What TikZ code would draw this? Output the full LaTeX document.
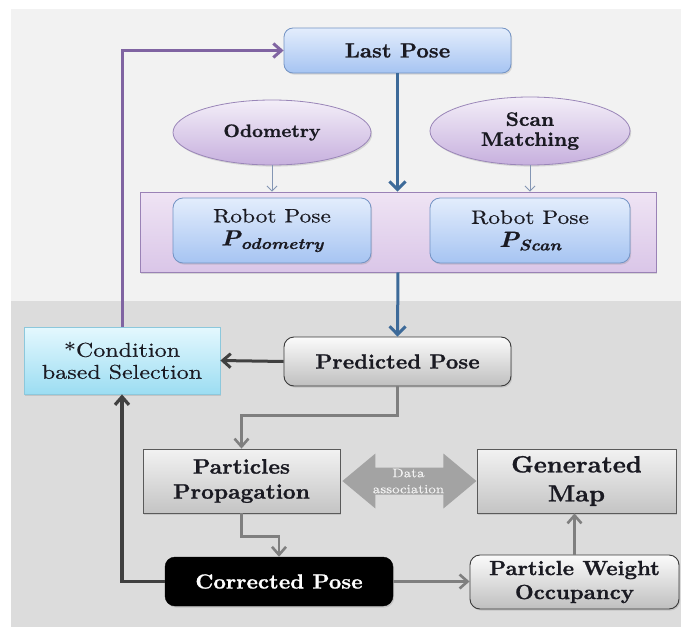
\documentclass[tikz,border=0pt]{standalone}
\usepackage{fontspec}
\usetikzlibrary{arrows.meta,shapes.geometric,shadows,calc}
\newfontfamily\fwreg{lmroman10-regular}[Extension=.otf, FakeStretch=1.2, FakeBold=0.4]
\newfontfamily\fwbold{lmroman10-bold}[Extension=.otf, FakeStretch=1.06, FakeBold=1]
\newfontfamily\fwbi{lmroman10-bolditalic}[Extension=.otf, FakeStretch=1.15, FakeBold=0.8]
\definecolor{panelA}{HTML}{F2F2F2}
\definecolor{panelB}{HTML}{DCDCDC}
\definecolor{bluetop}{HTML}{E3EDFC}
\definecolor{bluebot}{HTML}{A6C4F2}
\definecolor{blueedge}{HTML}{7393C4}
\definecolor{purptop}{HTML}{F3EEF8}
\definecolor{purpbot}{HTML}{C7B0DE}
\definecolor{purpedge}{HTML}{9A86B8}
\definecolor{bandtop}{HTML}{EFE4F4}
\definecolor{bandbot}{HTML}{DAC6E8}
\definecolor{bandedge}{HTML}{9A82B6}
\definecolor{graytop}{HTML}{FBFBFB}
\definecolor{graybot}{HTML}{BFBFBF}
\definecolor{grayedge}{HTML}{3A3A3A}
\definecolor{sqtop}{HTML}{F2F2F2}
\definecolor{sqbot}{HTML}{C4C4C4}
\definecolor{sqedge}{HTML}{5A5A5A}
\definecolor{cyantop}{HTML}{E4F8FE}
\definecolor{cyanbot}{HTML}{9CDDF2}
\definecolor{cyanedge}{HTML}{8CC8DC}
\definecolor{bluearr}{HTML}{3D6A99}
\definecolor{purparr}{HTML}{8064A2}
\definecolor{darkarr}{HTML}{404040}
\definecolor{grayarr}{HTML}{7F7F7F}
\definecolor{thinarr}{HTML}{8496B4}
\definecolor{dagray}{HTML}{A3A3A3}
\definecolor{textc}{HTML}{1A1A22}
\tikzset{
  boxshadow/.style={drop shadow={shadow xshift=1.2pt, shadow yshift=-1.6pt, opacity=0.25}},
  basebox/.style={draw, inner sep=2pt, align=center, text=textc, boxshadow},
  bluebox/.style={basebox, rectangle, rounded corners=9pt, draw=blueedge, line width=0.8pt, top color=bluetop, bottom color=bluebot},
  ellbox/.style={basebox, ellipse, draw=purpedge, line width=0.8pt, top color=purptop, bottom color=purpbot},
  bandbox/.style={rectangle, draw=bandedge, line width=0.9pt, top color=bandtop, bottom color=bandbot, boxshadow},
  graybox/.style={basebox, rectangle, rounded corners=10pt, draw=grayedge, line width=0.9pt, top color=graytop, bottom color=graybot},
  sqbox/.style={basebox, rectangle, draw=sqedge, line width=0.8pt, top color=sqtop, bottom color=sqbot},
  cyanbox/.style={basebox, rectangle, draw=cyanedge, line width=0.8pt, top color=cyantop, bottom color=cyanbot},
  blackbox/.style={basebox, rectangle, rounded corners=10pt, draw=black, fill=black, text=white},
  bluearrow/.style={draw=bluearr, line width=3pt, -{Straight Barb[length=8pt,width=16pt]}},
  thinarrow/.style={draw=thinarr, line width=0.9pt, -{Straight Barb[length=5pt,width=10pt]}},
  purplearrow/.style={draw=purparr, line width=3pt, -{Straight Barb[length=8pt,width=14pt]}},
  darkarrow/.style={draw=darkarr, line width=3pt, -{Straight Barb[length=8pt,width=14pt]}},
  grayarrow/.style={draw=grayarr, line width=2.6pt, -{Straight Barb[length=8pt,width=14pt]}},
  datext/.style={align=center, text=white!95!black, inner sep=0pt},
}
\begin{document}
\begin{tikzpicture}[x=1pt,y=-1pt]
\useasboundingbox (0,0) rectangle (681,629);
\fill[white] (0,0) rectangle (681,629);
\fill[panelA] (11,9) rectangle (681,301);
\fill[panelB] (11,301) rectangle (681,627);

% purple band
\node[bandbox, minimum width=516pt, minimum height=80pt] (band) at (398,232) {};

% nodes
\node[bluebox, minimum width=227pt, minimum height=45pt,
  font={\fwbold\fontsize{20.5}{24}\selectfont}] (last) at (397.5,50.5) {Last Pose};
\node[ellbox, minimum width=198pt, minimum height=65pt,
  font={\fwbold\fontsize{18}{20}\selectfont}] (odo) at (272,132.5) {Odometry};
\node[ellbox, minimum width=200pt, minimum height=68pt,
  font={\fwbold\fontsize{19.5}{20}\selectfont}] (scan) at (530,131) {Scan\\Matching};
\node[bluebox, rounded corners=10pt, minimum width=198pt, minimum height=65pt,
  font={\fwreg\fontsize{19.5}{23}\selectfont}] (rpo) at (272,230.5)
  {Robot Pose\\{\fwbi\fontsize{22}{22}\selectfont P\raisebox{-3.5pt}{\fontsize{15.5}{15}\selectfont odometry}}};
\node[bluebox, rounded corners=10pt, minimum width=200pt, minimum height=65pt,
  font={\fwreg\fontsize{19.5}{23}\selectfont}] (rps) at (530,230.5)
  {Robot Pose\\{\fwbi\fontsize{22}{22}\selectfont P\raisebox{-3.5pt}{\fontsize{15.5}{15}\selectfont Scan}}};
\node[graybox, minimum width=227pt, minimum height=49pt,
  font={\fwbold\fontsize{20.5}{24}\selectfont}] (pred) at (397.5,361.5) {Predicted Pose};
\node[cyanbox, minimum width=196pt, minimum height=67pt,
  font={\fwreg\fontsize{20}{22}\selectfont}] (cond) at (122,360.5) {*Condition\\based Selection};
\node[sqbox, minimum width=197pt, minimum height=64pt,
  font={\fwbold\fontsize{21}{25}\selectfont}] (part) at (241.5,481) {Particles\\Propagation};
\node[sqbox, minimum width=199pt, minimum height=64pt,
  font={\fwbold\fontsize{23.5}{29}\selectfont}] (gmap) at (576.5,481) {Generated\\Map};
\node[blackbox, minimum width=228pt, minimum height=49pt,
  font={\fwbold\fontsize{20.5}{24}\selectfont}] (corr) at (279,581.5) {Corrected Pose};
\node[graybox, minimum width=209pt, minimum height=54pt,
  font={\fwbold\fontsize{20.5}{24}\selectfont}] (pw) at (574.5,582) {Particle Weight\\Occupancy};

% data association double arrow
\fill[dagray] ($(part.east)+(2,0)$) -- ++(33,-27.5) -- ++(0,14) -- ++(68,0) -- ++(0,-14)
  -- ++(33,27.5) -- ++(-33,27.5) -- ++(0,-14) -- ++(-68,0) -- ++(0,14) -- cycle;
\node[datext, font={\fwreg\fontsize{12.5}{16}\selectfont}] (dat)
  at ($(part.east)!0.5!(gmap.west)$) {Data\\association};

% connectors
\draw[bluearrow] (last.south) -- (last.south |- band.north);
\draw[bluearrow] (band.south) -- (pred.north);
\draw[thinarrow] (odo.south) -- (odo.south |- band.north);
\draw[thinarrow] (scan.south) -- (scan.south |- band.north);
\draw[darkarrow] (pred.west) -- (cond.east);
\draw[purplearrow] (cond.north) -- (cond.north |- last.west) -- (last.west);
\draw[grayarrow] (pred.south) -- ++(0,29) -| (part.north);
\draw[grayarrow] (part.south) -- ++(0,23) -| (corr.north);
\draw[grayarrow] (corr.east) -- (corr.east -| pw.west);
\draw[grayarrow] (pw.north) -- (pw.north |- gmap.south);
\draw[darkarrow, line width=3.2pt] (corr.west) -| (cond.south);
\end{tikzpicture}
\end{document}
